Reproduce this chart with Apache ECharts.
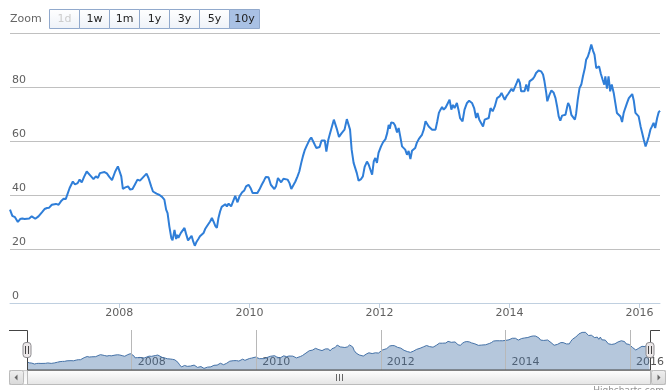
<!DOCTYPE html>
<html>
<head>
<meta charset="utf-8">
<script src="https://cdn.jsdelivr.net/npm/echarts@6/dist/echarts.min.js"></script>
<style>
html,body{margin:0;padding:0;background:#fff;}
#chart{width:667px;height:390px;}
</style>
</head>
<body>
<div id="chart"></div>
<script>
// ---- data ----
const dates = [
'2006-04-27','2006-05-10','2006-05-25','2006-06-10','2006-06-23','2006-07-05','2006-07-18','2006-07-29','2006-08-13','2006-08-27','2006-09-16','2006-10-04','2006-10-23','2006-11-07','2006-11-21','2006-12-03','2006-12-18','2006-12-27',
'2007-01-10','2007-01-25','2007-02-10','2007-02-22','2007-03-06','2007-03-17','2007-03-28','2007-04-15','2007-04-27','2007-05-12','2007-05-23','2007-06-04','2007-06-17','2007-07-02','2007-07-11','2007-07-24','2007-08-09','2007-08-22','2007-09-03','2007-09-14','2007-09-25','2007-10-10','2007-10-23','2007-11-06','2007-11-21','2007-12-09','2007-12-24',
'2008-01-03','2008-01-12','2008-01-21','2008-02-04','2008-02-19','2008-03-02','2008-03-15','2008-03-28','2008-04-12','2008-04-26','2008-05-07','2008-05-21','2008-06-02','2008-06-13','2008-06-28','2008-07-08','2008-07-16','2008-07-28','2008-08-14','2008-08-28','2008-09-10','2008-09-20','2008-09-28','2008-10-08','2008-10-19','2008-10-26','2008-11-06','2008-11-15','2008-11-22','2008-11-28','2008-12-11','2008-12-22',
'2009-01-01','2009-01-10','2009-01-21','2009-01-30','2009-02-10','2009-02-19','2009-02-28','2009-03-11','2009-03-20','2009-03-29','2009-04-09','2009-04-18','2009-04-27','2009-05-07','2009-05-16','2009-05-25','2009-06-04','2009-06-13','2009-06-23','2009-07-02','2009-07-11','2009-07-20','2009-07-29','2009-08-09','2009-08-18','2009-08-27','2009-09-06','2009-09-20','2009-09-30','2009-10-13','2009-10-26','2009-11-06','2009-11-21','2009-12-03','2009-12-13','2009-12-27',
'2010-01-07','2010-01-19','2010-01-30','2010-02-14','2010-02-26','2010-03-11','2010-03-24','2010-04-03','2010-04-18','2010-05-01','2010-05-12','2010-05-21','2010-05-30','2010-06-10','2010-06-19','2010-06-28','2010-07-11','2010-07-20','2010-08-03','2010-08-14','2010-08-24','2010-09-03','2010-09-16','2010-09-28','2010-10-08','2010-10-19','2010-10-28','2010-11-07','2010-11-17','2010-11-26','2010-12-05','2010-12-14','2010-12-24',
'2011-01-03','2011-01-12','2011-01-21','2011-01-30','2011-02-10','2011-02-19','2011-02-28','2011-03-09','2011-03-20','2011-03-29','2011-04-09','2011-04-20','2011-04-27','2011-05-08','2011-05-19','2011-06-04','2011-06-19','2011-07-02','2011-07-11','2011-07-20','2011-07-29','2011-08-09','2011-08-18','2011-08-27','2011-09-06','2011-09-20','2011-09-30','2011-10-10','2011-10-23','2011-11-02','2011-11-11','2011-11-21','2011-11-30','2011-12-09','2011-12-18','2011-12-27',
'2012-01-10','2012-01-21','2012-02-04','2012-02-14','2012-02-22','2012-02-28','2012-03-07','2012-03-20','2012-03-29','2012-04-09','2012-04-18','2012-04-27','2012-05-07','2012-05-16','2012-05-25','2012-06-04','2012-06-13','2012-06-23','2012-07-02','2012-07-11','2012-07-20','2012-07-29','2012-08-09','2012-08-18','2012-08-27','2012-09-06','2012-09-16','2012-09-25','2012-10-04','2012-10-13','2012-10-23','2012-11-02','2012-11-11','2012-11-21','2012-11-30','2012-12-09','2012-12-18','2012-12-27',
'2013-01-07','2013-01-16','2013-01-29','2013-02-08','2013-02-17','2013-02-26','2013-03-11','2013-03-20','2013-03-29','2013-04-12','2013-04-23','2013-05-07','2013-05-19','2013-06-04','2013-06-16','2013-06-27','2013-07-05','2013-07-15','2013-07-26','2013-08-05','2013-08-14','2013-08-25','2013-09-06','2013-09-16','2013-09-28','2013-10-10','2013-10-23','2013-11-06','2013-11-17','2013-11-26','2013-12-05','2013-12-14','2013-12-24',
'2014-01-03','2014-01-12','2014-01-21','2014-01-30','2014-02-10','2014-02-19','2014-02-28','2014-03-07','2014-03-17','2014-03-26','2014-04-05','2014-04-15','2014-04-23','2014-05-03','2014-05-12','2014-05-21','2014-05-30','2014-06-13','2014-06-27','2014-07-08','2014-07-16','2014-07-26','2014-08-01','2014-08-13','2014-08-24','2014-09-05','2014-09-16','2014-09-25','2014-10-04','2014-10-13','2014-10-23','2014-11-02','2014-11-11','2014-11-21','2014-11-26','2014-12-05','2014-12-14','2014-12-24',
'2015-01-03','2015-01-10','2015-01-19','2015-01-29','2015-02-08','2015-02-17','2015-02-28','2015-03-07','2015-03-17','2015-03-26','2015-04-05','2015-04-15','2015-04-23','2015-05-03','2015-05-12','2015-05-19','2015-05-29','2015-06-08','2015-06-17','2015-06-23','2015-07-02','2015-07-11','2015-07-20','2015-07-29','2015-08-09','2015-08-18','2015-08-27','2015-09-06','2015-09-16','2015-09-25','2015-10-04','2015-10-13','2015-10-23','2015-11-02','2015-11-11','2015-11-21','2015-11-30','2015-12-09','2015-12-18','2015-12-27',
'2016-01-07','2016-01-16','2016-01-25','2016-02-04','2016-02-14','2016-02-22','2016-03-02','2016-03-11','2016-03-20','2016-03-29','2016-04-09','2016-04-18','2016-04-25'
];
const values = [
34.6,32.3,31.8,30.0,31.1,31.3,31.1,31.4,31.3,32.1,31.2,32.1,33.6,34.8,35.2,35.3,36.4,37.0,
36.7,36.4,37.9,38.6,38.5,38.7,42.6,45.0,43.9,44.4,45.7,44.7,46.7,48.7,49.1,47.1,45.9,46.9,46.3,48.1,47.8,48.5,48.0,46.7,45.5,48.7,50.6,
51.2,46.9,42.3,42.8,43.2,42.0,42.2,43.8,45.7,45.3,45.9,47.1,47.9,46.3,43.2,41.3,41.7,40.5,40.0,39.3,38.3,34.6,33.3,28.4,24.1,23.2,27.1,23.7,25.3,24.1,25.9,26.5,
27.8,25.6,23.2,23.7,24.9,22.8,21.2,22.8,23.7,24.7,24.3,25.9,27.4,28.4,27.8,30.2,31.5,30.2,28.6,27.8,31.5,33.9,35.6,35.4,36.6,35.8,36.8,35.8,36.0,39.7,37.3,39.5,41.0,41.7,43.2,43.8,
42.6,40.7,41.3,40.7,42.0,43.8,45.4,46.7,46.6,43.8,43.9,42.2,43.2,46.3,46.6,44.7,46.0,45.5,45.7,44.4,42.2,42.4,45.0,46.9,48.7,51.9,54.3,56.5,58.0,57.8,60.5,61.3,61.2,
58.6,57.4,56.8,57.8,60.2,59.6,60.2,56.1,60.5,62.7,63.2,67.9,67.3,64.2,61.5,63.0,64.2,68.1,67.6,64.2,56.8,51.9,51.2,48.1,45.3,45.9,46.9,50.4,52.4,51.2,50.9,47.5,52.4,53.7,51.9,55.6,
58.0,59.5,60.7,63.0,66.0,64.5,66.9,66.7,65.7,63.2,64.8,61.7,58.0,57.4,56.8,54.9,56.3,53.3,56.4,55.9,57.4,59.3,60.7,61.5,62.3,64.2,67.3,67.0,65.4,64.8,64.2,63.6,64.2,67.3,70.4,71.6,72.6,71.6,
72.4,72.0,75.3,71.6,73.4,72.2,74.1,71.6,68.5,67.3,71.6,74.1,74.9,74.1,72.2,68.5,70.4,67.9,67.3,65.4,67.9,67.7,68.5,72.2,71.0,72.8,75.9,76.5,77.8,76.5,75.3,76.5,77.4,
77.2,79.3,78.4,77.8,81.5,83.0,81.5,78.4,77.8,78.4,80.9,78.4,82.1,82.7,83.0,83.9,85.2,86.1,85.8,84.6,82.1,77.8,74.7,77.1,78.7,78.0,75.9,72.8,69.1,67.5,69.4,69.3,69.7,72.8,74.1,72.8,69.7,70.2,
67.9,70.2,75.3,79.6,80.9,83.9,87.0,90.1,91.3,93.2,95.7,93.4,92.0,87.0,87.1,87.6,84.8,82.7,80.9,83.9,79.4,83.9,78.4,80.9,77.8,74.1,70.4,70.0,69.1,67.0,70.4,72.2,74.1,75.9,76.5,77.4,74.9,70.4,70.0,69.1,
65.4,63.0,60.5,58.0,59.9,61.7,64.2,65.4,66.7,64.8,68.5,70.7,71.2
];
const yearTicks = ['2008-01-01','2010-01-01','2012-01-01','2014-01-01','2016-01-01'];
const yMin = 0, yMax = 100, yStep = 20;
const zoomLabel = 'Zoom';
const zoomButtons = ['1d','1w','1m','1y','3y','5y','10y'];
const selectedButton = '10y';
const disabledButtons = ['1d'];
const creditText = 'Highcharts.com';

// ---- build ----
const ts = s => Date.parse(s + 'T00:00:00Z');
const seriesData = dates.map((d, i) => [ts(d), values[i]]);
const tMin = ts(dates[0]), tMax = ts(dates[dates.length - 1]);
const yearTs = yearTicks.map(ts);
const yearFmt = v => String(new Date(v).getUTCFullYear());

const chart = echarts.init(document.getElementById('chart'), null, {renderer: 'canvas'});
const FONT = '"DejaVu Sans", Verdana, sans-serif';

const NAV_L = 27, NAV_R = 650, NAV_T = 330, NAV_B = 370;
const SB_T = 370, SB_H = 14;

const graphics = [];
graphics.push({type: 'text', style: {text: zoomLabel, x: 10, y: 19, font: '11px ' + FONT, fill: '#666', textVerticalAlign: 'middle'}});
const BX0 = 49, BW = 30, BY = 9, BH = 19;
zoomButtons.forEach((b, i) => {
  const sel = b === selectedButton, dis = disabledButtons.includes(b);
  graphics.push({type: 'rect', shape: {x: BX0 + i * BW + 0.5, y: BY + 0.5, width: BW, height: BH},
    style: {fill: sel ? '#a9c1e4' : {type: 'linear', x: 0, y: 0, x2: 0, y2: 1, colorStops: [{offset: 0, color: '#ffffff'}, {offset: 1, color: '#eef2f8'}]}, stroke: '#91a9cc', lineWidth: 1}});
  graphics.push({type: 'text', style: {text: b, x: BX0 + i * BW + BW / 2 + 0.5, y: BY + BH / 2 + 1, font: '11px ' + FONT, fill: dis ? '#cccccc' : '#222', textAlign: 'center', textVerticalAlign: 'middle'}});
});

graphics.push({type: 'polyline', shape: {points: [[9, NAV_T + 0.5], [NAV_L + 0.5, NAV_T + 0.5], [NAV_L + 0.5, NAV_B], [NAV_R + 0.5, NAV_B], [NAV_R + 0.5, NAV_T + 0.5], [660, NAV_T + 0.5]]}, style: {stroke: '#444', lineWidth: 1, fill: null}, z: 10});

const grad = (a, b) => ({type: 'linear', x: 0, y: 0, x2: 0, y2: 1, colorStops: [{offset: 0, color: a}, {offset: 1, color: b}]});
graphics.push({type: 'rect', shape: {x: 9.5, y: SB_T + 0.5, width: 656, height: SB_H}, style: {fill: grad('#eeeeee', '#ffffff'), stroke: '#cccccc', lineWidth: 1}, z: 5});
graphics.push({type: 'rect', shape: {x: NAV_L + 0.5, y: SB_T + 0.5, width: NAV_R - NAV_L, height: SB_H, r: 0}, style: {fill: grad('#ffffff', '#e4e4e4'), stroke: '#bbbbbb', lineWidth: 1}, z: 6});
const cx = (NAV_L + NAV_R) / 2;
[-3, 0, 3].forEach(d => graphics.push({type: 'line', shape: {x1: Math.round(cx + d) + 0.5, y1: SB_T + 4, x2: Math.round(cx + d) + 0.5, y2: SB_T + 11}, style: {stroke: '#666', lineWidth: 1}, z: 7}));
[[9.5, 'l'], [651.5, 'r']].forEach(([x, dir]) => {
  graphics.push({type: 'rect', shape: {x: x, y: SB_T + 0.5, width: 14, height: SB_H, r: 2}, style: {fill: grad('#f0f0f0', '#d8d8d8'), stroke: '#bbbbbb', lineWidth: 1}, z: 8});
  const mx = x + 7, my = SB_T + 7.5;
  const pts = dir === 'l' ? [[mx - 2, my], [mx + 1, my - 3], [mx + 1, my + 3]] : [[mx + 2, my], [mx - 1, my - 3], [mx - 1, my + 3]];
  graphics.push({type: 'polygon', shape: {points: pts}, style: {fill: '#666'}, z: 9});
});
[NAV_L, NAV_R].forEach(hx => {
  graphics.push({type: 'rect', shape: {x: hx - 4, y: 342.5, width: 8, height: 15, r: 3}, style: {fill: '#ebe7e8', stroke: '#8e8d91', lineWidth: 1}, z: 11});
  graphics.push({type: 'line', shape: {x1: hx - 1.5, y1: 346, x2: hx - 1.5, y2: 354}, style: {stroke: '#444', lineWidth: 1}, z: 12});
  graphics.push({type: 'line', shape: {x1: hx + 1.5, y1: 346, x2: hx + 1.5, y2: 354}, style: {stroke: '#444', lineWidth: 1}, z: 12});
});
graphics.push({type: 'text', style: {text: creditText, x: 664, y: 386, font: '9px ' + FONT, fill: '#909090', textAlign: 'right', textVerticalAlign: 'top'}});

chart.setOption({
  animation: false,
  backgroundColor: '#fff',
  grid: [
    {left: 10, right: 7, top: 33, height: 270, containLabel: false},
    {left: NAV_L, width: NAV_R - NAV_L, top: NAV_T, height: NAV_B - NAV_T, containLabel: false}
  ],
  xAxis: [
    {type: 'value', gridIndex: 0, min: tMin, max: tMax, scale: true,
     axisLine: {show: true, lineStyle: {color: '#C0D0E0', width: 1}},
     axisTick: {show: true, length: 5, customValues: yearTs, lineStyle: {color: '#C0D0E0'}},
     axisLabel: {customValues: yearTs, formatter: yearFmt, color: '#606060', fontSize: 11, fontFamily: FONT, margin: 5},
     splitLine: {show: false}},
    {type: 'value', gridIndex: 1, min: tMin, max: tMax, scale: true,
     axisLine: {show: false}, axisTick: {show: false},
     axisLabel: {customValues: yearTs, formatter: yearFmt, inside: true, align: 'left', verticalAlign: 'middle', padding: [0, 0, 0, 6], margin: 8, color: '#555', fontSize: 11, fontFamily: FONT},
     splitLine: {show: false}}
  ],
  yAxis: [
    {type: 'value', gridIndex: 0, min: yMin, max: yMax, interval: yStep,
     axisLine: {show: false}, axisTick: {show: false},
     splitLine: {show: true, lineStyle: {color: '#C0C0C0', width: 1}},
     axisLabel: {inside: true, showMaxLabel: false, align: 'left', verticalAlign: 'bottom', margin: 2, padding: [0, 0, 1, 0], color: '#606060', fontSize: 11, fontFamily: FONT}},
    {type: 'value', gridIndex: 1, min: 18, max: 98, show: false}
  ],
  series: [
    {type: 'line', xAxisIndex: 0, yAxisIndex: 0, data: seriesData, showSymbol: false, symbol: 'none',
     lineStyle: {color: '#2f7ed8', width: 2}, itemStyle: {color: '#2f7ed8'}, z: 3},
    {type: 'line', xAxisIndex: 1, yAxisIndex: 1, data: seriesData, showSymbol: false, symbol: 'none',
     lineStyle: {color: '#4572A7', width: 1}, areaStyle: {color: '#4572A7', opacity: 0.4},
     markLine: {silent: true, symbol: 'none', label: {show: false}, lineStyle: {color: '#b8b8b8', width: 1, type: 'solid'},
       data: yearTs.map(t => ({xAxis: t}))}}
  ],
  graphic: graphics
});
</script>
</body>
</html>
